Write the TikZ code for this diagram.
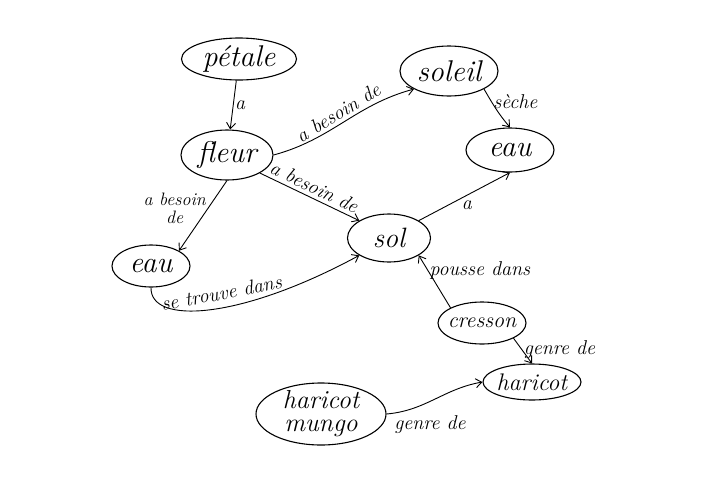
\documentclass[tikz,border=0pt]{standalone}
\usepackage{fontspec}
\usetikzlibrary{shapes.geometric,arrows.meta}
\newcommand{\fs}[1]{\fontsize{#1}{#1}\selectfont\itshape}
\begin{document}
\begin{tikzpicture}[x=1pt,y=-1pt,
  concept/.style={ellipse,draw,line width=1.1pt,inner xsep=-10pt,inner ysep=-6pt,font=\fs{30}},
  link/.style={draw,line width=0.9pt,-{Straight Barb[length=6pt,width=9pt]}},
  lab/.style={font=\fs{20},inner sep=1.5pt}]
\useasboundingbox[fill=white] (0,0) rectangle (715,485);
\node[concept,minimum width=115,minimum height=42] (petale) at (239,59) {pétale};
\node[concept,minimum width=98,minimum height=50] (soleil) at (449,71) {soleil};
\node[concept,minimum width=92,minimum height=50] (fleur) at (227,155) {fleur};
\node[concept,minimum width=88,minimum height=44] (eau1) at (510,150) {eau};
\node[concept,minimum width=83,minimum height=48,font=\fs{28}] (sol) at (389,238) {sol};
\node[concept,minimum width=78,minimum height=42] (eau2) at (151,266) {eau};
\node[concept,minimum width=88,minimum height=42,font=\fs{22}] (cresson) at (482,323) {cresson};
\node[concept,minimum width=98,minimum height=36,font=\fs{24}] (haricot) at (532,382) {haricot};
\node[concept,minimum width=130,minimum height=62,align=center,font=\fontsize{26}{23}\selectfont\itshape] (mungo) at (321,414) {haricot\\mungo};

\draw[link] (petale) -- node[lab,right]{a} (fleur);
\draw[link] (fleur.east) to[out=15,in=195] node[lab,sloped,above=2pt,pos=0.5]{a besoin de} (soleil.south west);
\draw[link] (soleil.south east) to[out=-60,in=130] node[lab,right,pos=0.3]{sèche} (eau1.north);
\draw[link] (fleur.south east) -- node[lab,sloped,above=2pt,pos=0.5]{a besoin de} (sol.north west);
\draw[link] (fleur.south) -- node[lab,left,align=center,pos=0.4,font=\fs{18}]{a besoin\\de} (eau2.north east);
\draw[link] (sol.north east) -- node[lab,below right,pos=0.45]{a} (eau1.south);
\draw[link] (eau2.south) .. controls (150,325) and (240,320) .. node[lab,sloped,above=6pt,pos=0.56]{se trouve dans} (sol.south west);
\draw[link] (cresson.north west) -- node[lab,right,pos=0.72]{pousse dans} (sol.south east);
\draw[link] (cresson.south east) -- node[lab,right,pos=0.45]{genre de} (haricot.north);
\draw[link] (mungo.east) to[out=5,in=190] node[lab,below right,pos=0.05]{genre de} (haricot.west);
\end{tikzpicture}
\end{document}
